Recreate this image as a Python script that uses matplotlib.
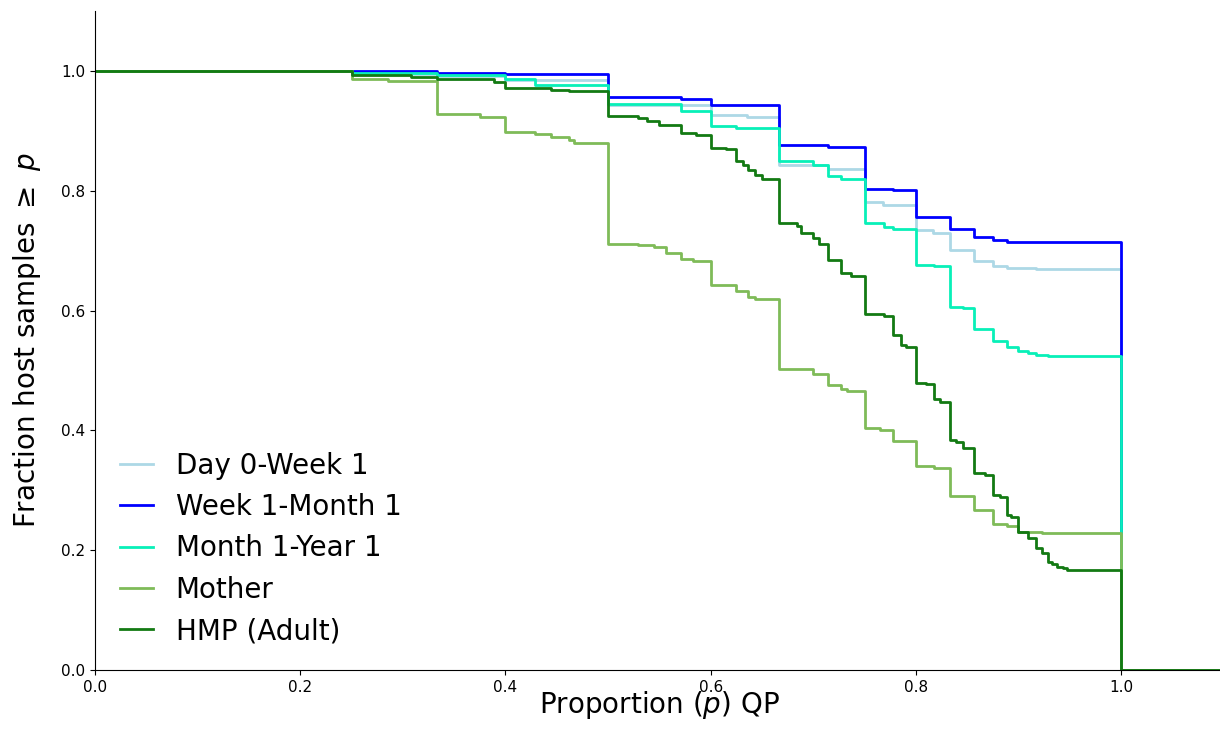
import matplotlib
matplotlib.use("Agg")
import matplotlib.pyplot as plt

# ---------------------------------------------------------
# Step curves: fraction of host samples with QP proportion >= p
# (x = step position, y = level after the step)
# ---------------------------------------------------------

labels = ["Day 0-Week 1", "Week 1-Month 1", "Month 1-Year 1", "Mother", "HMP (Adult)"]
colors = ["#add8e6", "#0000ff", "#08f0b8", "#7fbb58", "#137a13"]

x_day0 = [0, 0.25, 0.333, 0.4, 0.5, 0.6, 0.635, 0.667, 0.714, 0.75,
          0.768, 0.8, 0.817, 0.833, 0.857, 0.875, 0.889, 0.917, 1.0]
y_day0 = [1.0, 0.995, 0.991, 0.985, 0.944, 0.927, 0.924, 0.843, 0.837, 0.781,
          0.776, 0.734, 0.730, 0.701, 0.683, 0.674, 0.672, 0.669, 0.0]

x_week1 = [0, 0.333, 0.4, 0.5, 0.571, 0.6, 0.667, 0.714, 0.75, 0.778,
           0.8, 0.833, 0.857, 0.875, 0.889, 1.0]
y_week1 = [1.0, 0.997, 0.995, 0.956, 0.953, 0.943, 0.877, 0.873, 0.803, 0.801,
           0.757, 0.736, 0.723, 0.718, 0.715, 0.0]

x_month1 = [0, 0.25, 0.333, 0.4, 0.429, 0.5, 0.571, 0.6, 0.625, 0.667,
            0.7, 0.714, 0.727, 0.75, 0.769, 0.778, 0.8, 0.818, 0.833, 0.846,
            0.857, 0.875, 0.889, 0.9, 0.909, 0.917, 0.929, 1.0]
y_month1 = [1.0, 0.997, 0.994, 0.986, 0.977, 0.945, 0.934, 0.909, 0.905, 0.849,
            0.843, 0.825, 0.820, 0.746, 0.740, 0.736, 0.677, 0.675, 0.606, 0.604,
            0.569, 0.550, 0.539, 0.533, 0.529, 0.526, 0.524, 0.0]

x_mother = [0, 0.25, 0.286, 0.333, 0.375, 0.4, 0.429, 0.444, 0.462, 0.467,
            0.5, 0.529, 0.545, 0.556, 0.571, 0.583, 0.6, 0.625, 0.636, 0.643,
            0.667, 0.7, 0.714, 0.727, 0.733, 0.75, 0.765, 0.778, 0.8, 0.818,
            0.833, 0.857, 0.875, 0.889, 0.9, 0.923, 1.0]
y_mother = [1.0, 0.986, 0.983, 0.928, 0.924, 0.898, 0.895, 0.890, 0.885, 0.880,
            0.712, 0.709, 0.706, 0.696, 0.687, 0.683, 0.643, 0.633, 0.623, 0.619,
            0.502, 0.495, 0.476, 0.469, 0.465, 0.404, 0.401, 0.382, 0.341, 0.338,
            0.291, 0.267, 0.244, 0.241, 0.231, 0.228, 0.0]

x_hmp = [0, 0.25, 0.286, 0.308, 0.333, 0.389, 0.4, 0.444, 0.462, 0.5,
         0.529, 0.538, 0.55, 0.571, 0.586, 0.6, 0.615, 0.625, 0.632, 0.636,
         0.643, 0.65, 0.667, 0.684, 0.688, 0.7, 0.706, 0.714, 0.727, 0.737,
         0.75, 0.769, 0.778, 0.786, 0.79, 0.8, 0.81, 0.818, 0.824, 0.833,
         0.839, 0.846, 0.857, 0.867, 0.875, 0.882, 0.889, 0.893, 0.9, 0.909,
         0.917, 0.923, 0.929, 0.933, 0.938, 0.943, 0.947, 1.0]
y_hmp = [1.0, 0.994, 0.993, 0.990, 0.986, 0.982, 0.972, 0.969, 0.966, 0.925,
         0.921, 0.916, 0.910, 0.897, 0.893, 0.872, 0.870, 0.849, 0.843, 0.834,
         0.826, 0.819, 0.746, 0.742, 0.729, 0.721, 0.711, 0.684, 0.663, 0.657,
         0.595, 0.591, 0.559, 0.543, 0.539, 0.479, 0.477, 0.452, 0.448, 0.384,
         0.381, 0.370, 0.329, 0.326, 0.292, 0.289, 0.259, 0.256, 0.231, 0.220,
         0.203, 0.195, 0.181, 0.177, 0.172, 0.170, 0.167, 0.0]

xs = [x_day0, x_week1, x_month1, x_mother, x_hmp]
ys = [y_day0, y_week1, y_month1, y_mother, y_hmp]

# ---------------------------------------------------------
# Plot
# ---------------------------------------------------------

fig = plt.figure(figsize=(12.2, 7.42), dpi=100)
ax = fig.add_axes([0.0779, 0.097, 0.9251, 0.888])

for x, y, lab, c in zip(xs, ys, labels, colors):
    # carry the zero level on to the right edge of the axis
    ax.step(x + [1.1], y + [0.0], where="post", color=c, lw=2, label=lab)

ax.set_xlim(0, 1.1)
ax.set_ylim(0, 1.1)
ax.set_xticks([0.0, 0.2, 0.4, 0.6, 0.8, 1.0])
ax.set_yticks([0.0, 0.2, 0.4, 0.6, 0.8, 1.0])
ax.tick_params(labelsize=11)
ax.spines["top"].set_visible(False)
ax.spines["right"].set_visible(False)

ax.set_xlabel(r"Proportion ($p$) QP", fontsize=20, labelpad=-4)
ax.set_ylabel(r"Fraction host samples $\geq$ $p$", fontsize=20, labelpad=13)

ax.legend(loc="lower left", frameon=False, fontsize=20,
          bbox_to_anchor=(0.0, 0.0), handlelength=1.2, handletextpad=0.8,
          labelspacing=0.48)

fig.savefig("out.png", dpi=100)
